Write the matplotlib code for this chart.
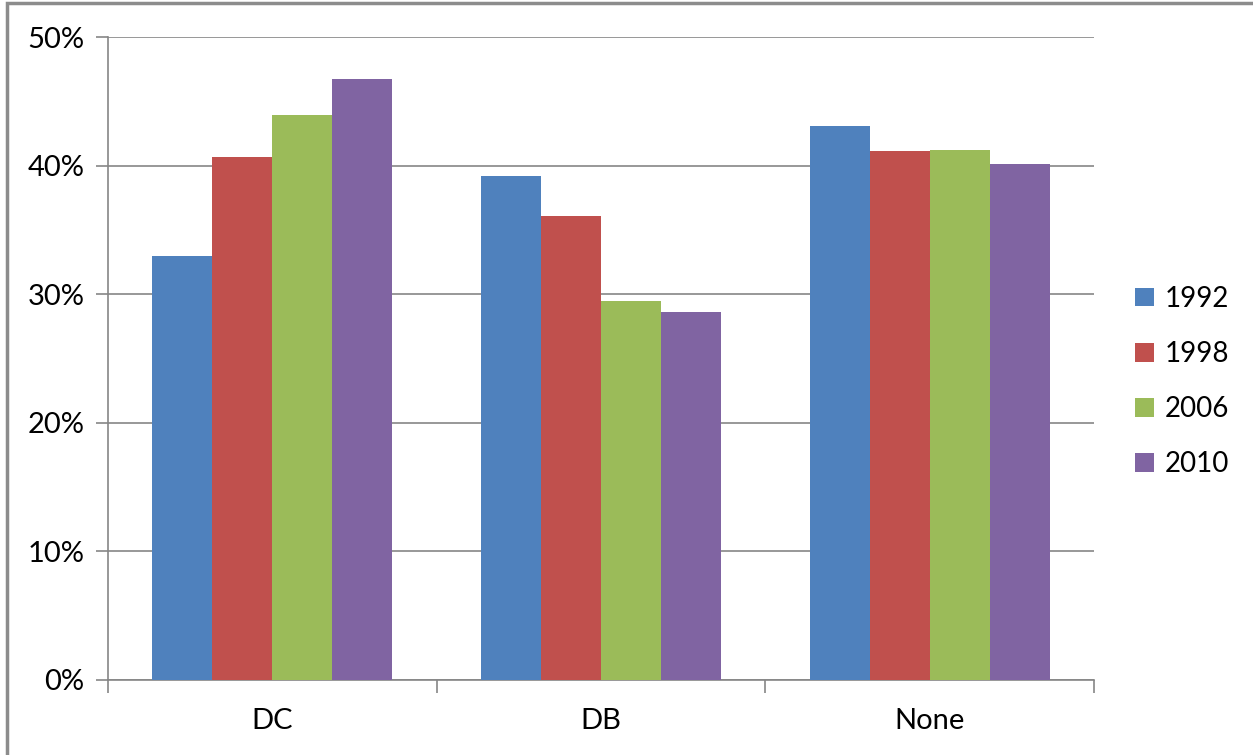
import matplotlib

matplotlib.use("Agg")
import matplotlib.pyplot as plt
import numpy as np
from matplotlib.patches import Rectangle

categories = ["DC", "DB", "None"]
years = ["1992", "1998", "2006", "2010"]
share_1992 = [33.0, 39.2, 43.1]
share_1998 = [40.7, 36.1, 41.1]
share_2006 = [43.9, 29.5, 41.2]
share_2010 = [46.7, 28.6, 40.1]
colors = ["#4F81BD", "#C0504D", "#9BBB59", "#8064A2"]

plt.rcParams["font.family"] = ["Lato", "DejaVu Sans"]

fig = plt.figure(figsize=(12.53, 7.55), dpi=100)
ax = fig.add_axes([108 / 1253, 1 - 680 / 755, 986 / 1253, 643 / 755])

# outer chart frame
fig.patches.append(Rectangle((7 / 1253, -0.05), 1.2, 1 - 3 / 755 + 0.05,
                             transform=fig.transFigure, fill=False,
                             edgecolor="#8c8c8c", linewidth=2.5))

x = np.arange(len(categories))
width = 0.1825
series = [share_1992, share_1998, share_2006, share_2010]
for i, (vals, year) in enumerate(zip(series, years)):
    ax.bar(x + (i - 1.5) * width, vals, width, color=colors[i], label=year,
           zorder=3, linewidth=0)

ax.set_xlim(-0.5, 2.5)
ax.set_ylim(0, 50)
ax.set_yticks(range(0, 51, 10))
ax.set_yticklabels([f"{v}%" for v in range(0, 51, 10)], fontsize=21)
ax.set_xticks(x)
ax.set_xticklabels(categories, fontsize=21)
ax.tick_params(axis="x", length=0, pad=20)
ax.tick_params(axis="y", length=9, width=1.2, color="#868686", pad=8)

# category boundary ticks on the x axis
ax.set_xticks([-0.5, 0.5, 1.5, 2.5], minor=True)
ax.tick_params(axis="x", which="minor", length=9, width=1.2, color="#868686")

ax.grid(axis="y", color="#868686", linewidth=1.2, zorder=0)
for side in ["top", "right"]:
    ax.spines[side].set_visible(False)
for side in ["left", "bottom"]:
    ax.spines[side].set_color("#868686")
    ax.spines[side].set_linewidth(1.2)

leg = ax.legend(loc="center left", bbox_to_anchor=(1.028, 0.464), frameon=False,
                fontsize=20, handlelength=0.65, handleheight=0.65,
                labelspacing=1.05, handletextpad=0.4, borderpad=0)

fig.savefig("out.png", dpi=100)
